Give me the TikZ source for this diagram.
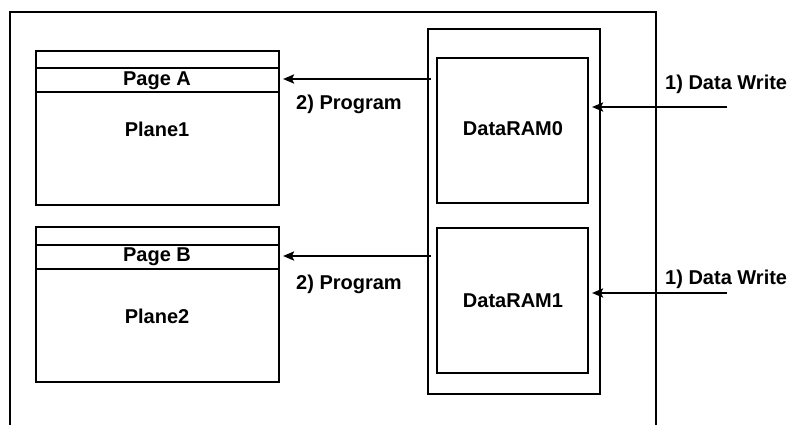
\documentclass[tikz,border=0pt]{standalone}
\usepackage{fontspec}
\setmainfont{Liberation Sans}
\usetikzlibrary{arrows.meta}
\begin{document}
\begin{tikzpicture}[x=1pt,y=-1pt,
  thinbox/.style={draw,line width=1.2pt,inner sep=0pt,outer sep=0pt,anchor=north west},
  thickbox/.style={draw,line width=2pt,inner sep=0pt,outer sep=0pt,anchor=north west},
  lbl/.style={font=\fontsize{20}{24}\selectfont\bfseries,inner sep=0pt,anchor=base},
  arr/.style={line width=2.6pt,-{Stealth[length=11pt,width=9pt,inset=2pt]}}]
\useasboundingbox (0,0) rectangle (791,424);
% outer frame (bottom lies below the picture)
\draw[line width=2pt] (10,430) -- (10,12) -- (656,12) -- (656,430);
% planes
\node[thinbox,minimum width=243pt,minimum height=154pt] (plane1) at (36,51) {};
\node[thinbox,minimum width=243pt,minimum height=24pt] (pageA) at (36,68) {};
\node[thinbox,minimum width=243pt,minimum height=155pt] (plane2) at (36,227) {};
\node[thinbox,minimum width=243pt,minimum height=24pt] (pageB) at (36,245) {};
\node[lbl] (tA) at (157,85) {Page A};
\node[lbl] (tP1) at (157,136) {Plane1};
\node[lbl] (tB) at (157,261) {Page B};
\node[lbl] (tP2) at (157,323) {Plane2};
% RAM
\node[thickbox,minimum width=172pt,minimum height=365pt] (ram) at (428,29) {};
\node[thinbox,minimum width=151pt,minimum height=145pt] (dr0) at (437,58) {};
\node[thinbox,minimum width=151pt,minimum height=145pt] (dr1) at (437,228) {};
\node[lbl] (t0) at (513,135) {DataRAM0};
\node[lbl] (t1) at (513,307) {DataRAM1};
% program arrows
\coordinate (pa) at (431,79);
\coordinate (pb) at (431,256);
\draw[arr,shorten >=4pt] (pa) -- (pageA.east |- pa);
\draw[arr,shorten >=4pt] (pb) -- (pageB.east |- pb);
\node[lbl] (lp1) at (349,109) {2) Program};
\node[lbl] (lp2) at (349,289) {2) Program};
% data write arrows
\coordinate (w0) at (727,107);
\coordinate (w1) at (727,293);
\draw[arr,shorten >=4pt] (w0) -- (dr0.east |- w0);
\draw[arr,shorten >=4pt] (w1) -- (dr1.east |- w1);
\node[lbl,anchor=base west] (lw0) at (665,89) {1) Data Write};
\node[lbl,anchor=base west] (lw1) at (665,284) {1) Data Write};
\end{tikzpicture}
\end{document}
